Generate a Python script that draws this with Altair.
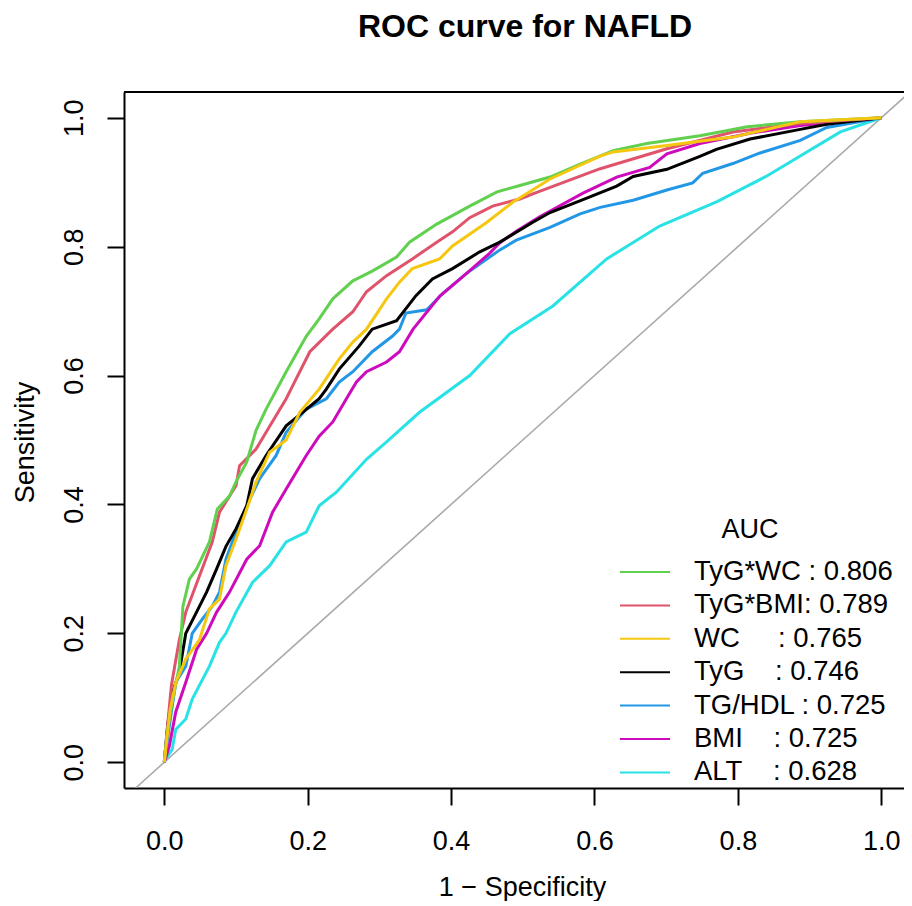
import altair as alt
import pandas as pd

# ---------------- data ----------------
names = ["TyG*WC", "TyG*BMI", "WC", "TyG", "TG/HDL", "BMI", "ALT"]
aucs = [0.806, 0.789, 0.765, 0.746, 0.725, 0.725, 0.628]
NB = "\u00a0"
legend_labels = [
    "TyG*WC : 0.806",
    "TyG*BMI: 0.789",
    "WC" + NB * 5 + ": 0.765",
    "TyG" + NB * 4 + ": 0.746",
    "TG/HDL : 0.725",
    "BMI" + NB * 4 + ": 0.725",
    "ALT" + NB * 4 + ": 0.628",
]
colors = ["#61D04F", "#DF536B", "#F5C710", "#000000", "#2297E6", "#CD0BBC", "#28E2E5"]

fpr_tygwc = [0, 0.004, 0.012, 0.021, 0.026, 0.035, 0.045, 0.063, 0.074, 0.091, 0.1, 0.115, 0.128, 0.142, 0.17, 0.198, 0.216, 0.235, 0.263, 0.29, 0.324, 0.342, 0.38, 0.426, 0.464, 0.496, 0.538, 0.58, 0.626, 0.673, 0.747, 0.813, 0.887, 1.0]
tpr_tygwc = [0, 0.047, 0.098, 0.149, 0.242, 0.284, 0.30, 0.342, 0.393, 0.413, 0.435, 0.466, 0.515, 0.548, 0.606, 0.661, 0.688, 0.719, 0.747, 0.762, 0.784, 0.807, 0.835, 0.863, 0.885, 0.895, 0.908, 0.928, 0.949, 0.96, 0.972, 0.986, 0.994, 1.0]

fpr_tygbmi = [0, 0.004, 0.01, 0.021, 0.03, 0.049, 0.067, 0.077, 0.1, 0.105, 0.128, 0.142, 0.17, 0.179, 0.203, 0.235, 0.263, 0.282, 0.31, 0.346, 0.38, 0.402, 0.426, 0.458, 0.496, 0.514, 0.608, 0.701, 0.793, 0.887, 1.0]
tpr_tygbmi = [0, 0.05, 0.12, 0.19, 0.233, 0.289, 0.342, 0.388, 0.429, 0.46, 0.486, 0.512, 0.564, 0.584, 0.637, 0.672, 0.699, 0.73, 0.755, 0.781, 0.807, 0.823, 0.845, 0.863, 0.874, 0.882, 0.921, 0.952, 0.978, 0.991, 1.0]

fpr_wc = [0, 0.002, 0.008, 0.016, 0.03, 0.049, 0.063, 0.077, 0.086, 0.1, 0.115, 0.128, 0.147, 0.17, 0.189, 0.216, 0.244, 0.263, 0.282, 0.31, 0.328, 0.346, 0.384, 0.402, 0.45, 0.486, 0.538, 0.607, 0.626, 0.701, 0.793, 0.887, 1.0]
tpr_wc = [0, 0.02, 0.08, 0.124, 0.16, 0.19, 0.238, 0.253, 0.305, 0.346, 0.393, 0.435, 0.481, 0.5, 0.543, 0.579, 0.626, 0.652, 0.672, 0.719, 0.745, 0.766, 0.781, 0.801, 0.838, 0.869, 0.905, 0.94, 0.947, 0.957, 0.97, 0.994, 1.0]

fpr_tyg = [0, 0.005, 0.012, 0.021, 0.03, 0.045, 0.059, 0.073, 0.086, 0.1, 0.115, 0.123, 0.142, 0.17, 0.193, 0.216, 0.226, 0.244, 0.272, 0.29, 0.324, 0.351, 0.374, 0.402, 0.44, 0.468, 0.514, 0.538, 0.584, 0.631, 0.654, 0.701, 0.747, 0.77, 0.817, 0.887, 0.924, 1.0]
tpr_tyg = [0, 0.06, 0.11, 0.14, 0.2, 0.233, 0.264, 0.3, 0.335, 0.362, 0.398, 0.44, 0.476, 0.522, 0.543, 0.564, 0.579, 0.61, 0.646, 0.672, 0.685, 0.724, 0.75, 0.766, 0.792, 0.807, 0.838, 0.853, 0.873, 0.894, 0.909, 0.92, 0.94, 0.951, 0.967, 0.982, 0.99, 1.0]

fpr_tghdl = [0, 0.007, 0.016, 0.03, 0.039, 0.053, 0.067, 0.077, 0.086, 0.1, 0.115, 0.133, 0.156, 0.17, 0.198, 0.226, 0.244, 0.263, 0.29, 0.318, 0.328, 0.337, 0.366, 0.389, 0.422, 0.468, 0.491, 0.538, 0.58, 0.608, 0.654, 0.701, 0.737, 0.751, 0.793, 0.83, 0.887, 0.924, 1.0]
tpr_tghdl = [0, 0.056, 0.124, 0.149, 0.2, 0.222, 0.242, 0.264, 0.315, 0.357, 0.398, 0.44, 0.476, 0.512, 0.548, 0.564, 0.59, 0.606, 0.637, 0.661, 0.672, 0.697, 0.702, 0.728, 0.759, 0.795, 0.81, 0.83, 0.851, 0.861, 0.872, 0.888, 0.899, 0.914, 0.929, 0.945, 0.965, 0.985, 1.0]

fpr_bmi = [0, 0.007, 0.016, 0.03, 0.045, 0.059, 0.073, 0.091, 0.115, 0.133, 0.151, 0.17, 0.198, 0.216, 0.235, 0.254, 0.268, 0.282, 0.31, 0.328, 0.347, 0.384, 0.422, 0.454, 0.468, 0.491, 0.523, 0.584, 0.631, 0.677, 0.701, 0.747, 0.817, 0.887, 1.0]
tpr_bmi = [0, 0.025, 0.078, 0.124, 0.175, 0.2, 0.233, 0.264, 0.315, 0.336, 0.388, 0.424, 0.476, 0.506, 0.528, 0.564, 0.59, 0.606, 0.621, 0.637, 0.672, 0.723, 0.759, 0.79, 0.806, 0.824, 0.846, 0.883, 0.908, 0.923, 0.944, 0.96, 0.976, 0.988, 1.0]

fpr_alt = [0, 0.002, 0.011, 0.016, 0.03, 0.039, 0.063, 0.077, 0.086, 0.1, 0.123, 0.147, 0.17, 0.198, 0.216, 0.24, 0.282, 0.31, 0.356, 0.426, 0.482, 0.542, 0.617, 0.691, 0.771, 0.841, 0.943, 1.0]
tpr_alt = [0, 0.005, 0.02, 0.051, 0.067, 0.098, 0.149, 0.186, 0.2, 0.233, 0.279, 0.305, 0.342, 0.357, 0.398, 0.419, 0.47, 0.497, 0.543, 0.6, 0.665, 0.708, 0.781, 0.832, 0.87, 0.91, 0.978, 1.0]

diag_vals = [-0.04, 1.04]
x_ticks = [0.0, 0.2, 0.4, 0.6, 0.8, 1.0]
y_ticks = [0.0, 0.2, 0.4, 0.6, 0.8, 1.0]
title_text = "ROC curve for NAFLD"

# drawing order (last drawn on top)
curves = [
    ("ALT", fpr_alt, tpr_alt),
    ("TG/HDL", fpr_tghdl, tpr_tghdl),
    ("BMI", fpr_bmi, tpr_bmi),
    ("TyG", fpr_tyg, tpr_tyg),
    ("TyG*BMI", fpr_tygbmi, tpr_tygbmi),
    ("TyG*WC", fpr_tygwc, tpr_tygwc),
    ("WC", fpr_wc, tpr_wc),
]
rows = []
for k, (nm, fx, ty) in enumerate(curves):
    for i, (a, b) in enumerate(zip(fx, ty)):
        rows.append({"name": nm, "fpr": a, "tpr": b, "i": i, "k": k})
df = pd.DataFrame(rows)

diag_df = pd.DataFrame({"x": diag_vals, "y": diag_vals})
leg_df = pd.DataFrame({"name": names, "label": legend_labels, "idx": list(range(len(names)))})
one = pd.DataFrame({"a": [0]})

FONT = "Liberation Sans"
W, H = 780, 696
xscale = alt.Scale(domain=[-0.0562, 1.0317], nice=False, zero=False)
yscale = alt.Scale(domain=[-0.04, 1.04], nice=False, zero=False)
cscale = alt.Scale(domain=names, range=colors)

xaxis = alt.Axis(values=x_ticks, format=".1f", grid=False, title="1 \u2212 Specificity",
                 domainColor="black", domainWidth=2, tickColor="black", tickWidth=2, tickSize=17,
                 labelFontSize=27, labelFont=FONT, labelColor="black", labelPadding=23,
                 labelBaseline="top", labelOverlap=False,
                 titleFont=FONT, titleFontSize=27, titleFontWeight="normal", titleColor="black",
                 titleX=398, titleY=107, titleBaseline="alphabetic", titleAlign="center")
yaxis = alt.Axis(values=y_ticks, format=".1f", grid=False, title="Sensitivity",
                 domainColor="black", domainWidth=2, tickColor="black", tickWidth=2, tickSize=17,
                 labelFontSize=27, labelFont=FONT, labelColor="black", labelPadding=25,
                 labelAngle=270, labelAlign="center", labelBaseline="alphabetic", labelOverlap=False,
                 titleFont=FONT, titleFontSize=27, titleFontWeight="normal", titleColor="black",
                 titleAngle=270, titleX=-91, titleY=350, titleBaseline="alphabetic", titleAlign="center")

diag = alt.Chart(diag_df).mark_line(color="#AAAAAA", strokeWidth=1.6, clip=True).encode(
    x=alt.X("x:Q", scale=xscale, axis=xaxis),
    y=alt.Y("y:Q", scale=yscale, axis=yaxis),
)

lines = alt.Chart(df).mark_line(strokeWidth=3, clip=True).encode(
    x=alt.X("fpr:Q", scale=xscale),
    y=alt.Y("tpr:Q", scale=yscale),
    color=alt.Color("name:N", scale=cscale, legend=None),
    detail="k:O",
    order=alt.Order("i:Q"),
)

top_border = alt.Chart(one).mark_rule(color="black", strokeWidth=2).encode(
    x=alt.value(0), x2=alt.value(820), y=alt.value(0)
)

leg_rules = alt.Chart(leg_df).transform_calculate(ypx="480 + 33.4 * datum.idx").mark_rule(strokeWidth=2).encode(
    x=alt.value(496), x2=alt.value(546),
    y=alt.Y("ypx:Q", scale=None, axis=None),
    color=alt.Color("name:N", scale=cscale, legend=None),
)
leg_text = alt.Chart(leg_df).transform_calculate(ypx="480 + 33.4 * datum.idx").mark_text(
    align="left", baseline="middle", font=FONT, fontSize=27.5, color="black"
).encode(
    x=alt.value(570),
    y=alt.Y("ypx:Q", scale=None, axis=None),
    text="label:N",
)
leg_title = alt.Chart(one).mark_text(
    align="center", baseline="middle", font=FONT, fontSize=27, color="black"
).encode(x=alt.value(626), y=alt.value(438), text=alt.value("AUC"))

main_title = alt.Chart(one).mark_text(
    align="center", baseline="alphabetic", font=FONT, fontSize=32, fontWeight="bold", color="black"
).encode(x=alt.value(401), y=alt.value(-55), text=alt.value(title_text))

chart = alt.layer(diag, lines, top_border, leg_rules, leg_text, leg_title, main_title).properties(
    width=W, height=H,
    autosize=alt.AutoSizeParams(type="none"),
    padding={"left": 116, "top": 84, "right": 0, "bottom": 113},
).configure_view(strokeWidth=0)

chart.save("out.html", embed_options={"renderer": "svg", "actions": False})
